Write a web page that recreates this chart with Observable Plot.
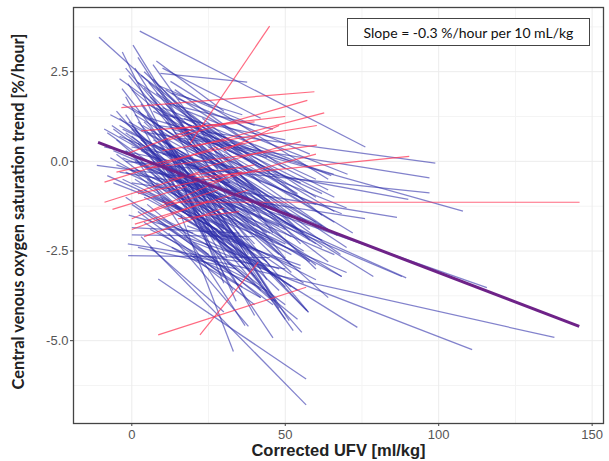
<!DOCTYPE html>
<html>
<head>
<meta charset="utf-8">
<script src="https://cdn.jsdelivr.net/npm/d3@7"></script>
<script src="https://cdn.jsdelivr.net/npm/@observablehq/plot@0.6"></script>
<style>
  html, body { margin: 0; padding: 0; background: #fff; }
  #wrap { position: relative; width: 609px; height: 461px; }
  #note {
    position: absolute; left: 347px; top: 18px; width: 243px; height: 28px;
    border: 1.3px solid #444; box-sizing: border-box; background: #fff;
    font-family: Lato, "Open Sans", sans-serif; font-size: 14px; color: #111;
    display: flex; align-items: center; justify-content: center; white-space: nowrap;
  }
</style>
</head>
<body>
<div id="wrap"></div>
<script>
// Tick positions
const xTicks = [0, 50, 100, 150];
const xMinor = [25, 75, 125];
const yTicks = [2.5, 0, -2.5, -5];
const yMinor = [3.75, 1.25, -1.25, -3.75, -6.25];

// Overall fitted trend (start and end points of the thick line)
const fitLine = [[-11, 0.53], [145.8, -4.60]];

// Individual patient trend segments [x1, y1, x2, y2] (blue)
const blueSegments = [
  [-10.7, 3.46, 42, -0.6], [2.6, 3.63, 76.1, 0.40], [9.3, 2.45, 37.6, 2.21], [-3.1, 3.05, 27, -2.2],
  [0.4, 3.24, 34, -1.4], [6.9, 2.70, 46, -2.0], [12.6, 2.23, 64, -0.5], [-1.3, 2.17, 38, -2.6],
  [-3.2, 2.03, 24, -1.0], [1.0, 2.60, 44, -3.3], [4.0, 2.05, 55, -2.3], [8.0, 1.90, 60, -1.0],
  [15.0, 1.75, 58, 0.2], [-2.0, 1.80, 33, -3.6], [-5.0, 1.40, 30, -2.0], [3.0, 1.60, 50, -4.4],
  [10.0, 1.50, 65, -0.4], [-4.0, 1.20, 40, -1.8], [5.0, 1.30, 47, -3.9], [0.0, 1.00, 57.6, -4.21],
  [18.0, 1.40, 70.3, -0.36], [-6.5, 1.00, 22, -0.7], [2.0, 2.90, 20, 0.5], [5.5, 2.20, 28, -0.2],
  [11.0, 2.00, 42, 0.3], [-1.0, 2.40, 16, 0.6],
  [-8.0, 0.80, 25, -1.2], [-9.0, 0.40, 30, -0.3], [-11.4, -0.11, 32, -0.6], [-7.0, 0.10, 28, -1.6],
  [-5.0, 0.60, 36, -2.4], [-3.0, 0.90, 45, -1.1], [-2.0, 0.30, 42, -3.0], [-1.0, 1.10, 52, -1.5],
  [0.0, 0.70, 48, -2.6], [0.5, 0.20, 36.9, -4.58], [1.0, 1.30, 35, -0.5], [2.0, 0.50, 55.4, -4.77],
  [3.0, 0.00, 40, -3.2], [3.5, 1.00, 60, -1.7], [4.0, 0.40, 46, -4.92], [5.0, 0.80, 97, -0.46],
  [5.0, -0.20, 88, -3.21], [6.0, 1.20, 65.8, -0.36], [6.0, 0.30, 52, -2.1], [7.0, 0.60, 78.7, -3.21],
  [7.5, -0.40, 45, -2.0], [8.0, 1.00, 98.9, -0.05], [8.0, 0.10, 50, -3.5], [9.0, 0.80, 70, -1.3],
  [10.0, 0.20, 90.1, -1.06], [10.0, -0.20, 89.4, -3.25], [11.0, 1.10, 55, -0.6], [12.0, 0.50, 62, -2.4],
  [12.0, -0.30, 57, -4.16], [13.0, 0.90, 107.9, -1.39], [14.0, 0.30, 48, -1.4], [15.0, -0.50, 115.7, -3.52],
  [15.0, 0.70, 67, -2.07], [16.0, 1.10, 52, 0.0], [17.0, 0.40, 60, -1.2], [18.0, -0.10, 51.3, -4.44],
  [19.0, 0.80, 62, -0.9], [20.0, 0.20, 68.4, -1.46], [22.0, 0.50, 58, -1.9], [-4.0, -0.30, 86.4, -1.56],
  [-2.0, 0.00, 97, -0.88], [0.0, -0.60, 76, -1.60], [1.0, -0.20, 68.4, -3.21], [2.0, -0.80, 73.5, -4.63],
  [-6.0, -0.60, 30, -1.8], [-3.0, -0.50, 38, -2.2],
  [-1.2, -2.63, 45, -2.68], [-1.3, -2.30, 50, -3.0], [0.0, -2.05, 40, -2.1], [0.0, -1.85, 35, -2.0],
  [8.6, -3.28, 56.8, -6.07], [3.0, -2.10, 56.8, -6.79], [16.0, -1.50, 33.1, -5.30], [20.0, -2.25, 110.9, -5.25],
  [20.0, -2.65, 137.7, -4.91], [5.0, -1.20, 42, -3.8], [8.0, -1.60, 46, -4.0], [10.0, -1.00, 54, -3.6],
  [12.0, -2.00, 38, -4.6], [14.0, -1.30, 60, -3.3], [18.0, -1.80, 55, -2.9], [22.0, -1.00, 66, -2.6],
  [25.0, -1.50, 70, -3.1], [24.0, -2.30, 50, -4.0], [28.0, -2.00, 55, -3.0], [2.0, -1.40, 30, -3.2],
  [-2.0, -1.00, 25, -2.6], [6.0, -2.40, 30, -4.2], [4.0, -1.70, 36, -3.5], [30.0, -1.20, 64, -3.8],
  [-7, 1.3, 20, 0.1], [-6, 0.3, 26, -0.9], [-5, -0.1, 34, -1.3], [-4, 0.7, 28, -0.4],
  [-3, 1.6, 30, -0.1], [-2, -0.3, 46, -2.2], [-1, 0.6, 38, -1.7], [0, 1.5, 42, -0.9],
  [1, -0.5, 44, -2.8], [2, 1.1, 40, -2.3], [3, 0.6, 34, -0.8], [4, -0.8, 40, -2.5],
  [5, 1.6, 38, 0.2], [6, -0.1, 58, -2.8], [7, 1.4, 45, -0.3], [8, -0.6, 50, -2.3],
  [9, 0.4, 35, -1.0], [10, 1.3, 50, 0.6], [11, -0.4, 48, -1.8], [12, 1.6, 46, 0.9],
  [13, 0.0, 38, -1.5], [14, 0.8, 44, 0.1], [15, -0.9, 52, -2.6], [16, 0.2, 40, -0.8],
  [17, 1.2, 60, -0.5], [18, 0.6, 50, -2.7], [19, -0.4, 62, -2.2], [20, 1.0, 48, -0.4],
  [21, -0.8, 45, -2.9], [23, 0.0, 60, -3.0], [24, 0.9, 56, -1.1], [26, -0.3, 64, -2.8],
  [0, 0.4, 24, 0.0], [-9, 0.9, 14, -0.2], [-8, -0.4, 18, -1.4], [2, 2.2, 26, 0.8],
  [4, 2.5, 30, 0.4], [-4, 2.3, 14, 1.2], [6, 1.8, 32, -0.6], [9, 2.1, 40, 1.0],
  [13, 1.9, 36, 1.3], [-2, 1.3, 18, -1.2], [1, 0.9, 22, -1.4], [3, -1.3, 26, -2.4],
  [7, -1.0, 28, -1.9], [10, -1.6, 34, -2.6], [-1, -1.5, 20, -2.0], [12, 0.3, 30, -3.4],
  [14, -0.2, 34, -3.9], [16, -0.6, 40, -4.3], [9, 1.0, 31, -2.7], [20, -1.3, 42, -3.4],
  [22, -0.5, 48, -4.1], [11, 0.6, 57.5, -4.2], [6, 0.9, 52.6, -4.72], [26, -1.0, 68.4, -3.21],
  [-6, 0.9, 24, -1.0], [-5, 0.2, 32, -2.2], [-4, 1.0, 36, -0.9], [-3, 0.1, 40, -1.4],
  [-2, 0.8, 44, -2.0], [-1, -0.2, 36, -2.7], [0, 0.9, 30, -1.9], [1, 0.0, 50, -1.9],
  [2, 1.4, 48, -1.3], [3, 0.3, 56, -2.5], [4, 1.1, 52, -2.9], [5, -0.5, 38, -3.0],
  [6, 0.5, 44, -1.2], [7, 0.0, 62, -1.8], [8, 1.5, 54, -1.9], [9, -0.3, 42, -3.6],
  [10, 0.6, 60, -2.9], [11, 1.6, 58, -2.2], [12, -0.8, 56, -3.4], [13, 1.3, 66, -1.4],
  [14, 0.0, 52, -3.1], [15, 1.0, 64, -1.9], [16, -1.0, 48, -3.6], [17, 0.6, 70, -2.4],
  [18, -0.6, 46, -3.2], [19, 1.0, 66, -1.0], [20, -0.1, 56, -2.0], [21, 0.7, 54, -0.9],
  [23, 1.2, 62, -1.5], [25, 0.4, 66, -1.7], [27, 0.8, 64, -0.8], [28, -0.7, 60, -2.3],
  [30, 0.2, 72, -2.0], [32, -0.4, 68, -2.6],
  [0, -1.2, 28, -2.8], [2, -2.4, 34, -3.0], [4, -1.0, 30, -2.2], [6, -1.9, 38, -3.3],
  [8, -2.2, 44, -3.6], [11, -1.2, 40, -2.9], [13, -2.4, 42, -3.8], [17, -2.1, 48, -3.0],
  [19, -2.6, 40, -4.0], [23, -1.8, 52, -3.5], [27, -2.5, 46, -3.9], [31, -2.8, 54, -4.4],
  [3, 2.4, 36, 0.2], [7, 2.3, 40, -0.8], [10, 2.6, 42, 1.2], [14, 2.0, 50, -0.2],
  [0, 2.0, 28, 0.0], [-2, 2.6, 22, 0.2], [8, 2.8, 30, 1.4]
];

// Individual patient trend segments [x1, y1, x2, y2] (red)
const redSegments = [
  [19, 0.5, 44.9, 3.77], [10, -1.14, 145.9, -1.14], [8.6, -4.84, 56.8, -3.51], [22.2, -4.84, 41.2, -2.81],
  [-3.4, 1.50, 59.5, 1.94], [12, 0.6, 57.2, 1.70], [20, 0.4, 62.7, 1.35], [10, 0.3, 60.3, 1.0],
  [5, -0.2, 60.3, 0.45], [20, -0.46, 90.4, 0.14], [-8.9, -0.58, 28, 0.4], [-8.9, -1.14, 22, -0.3],
  [-6.3, -1.34, 18, -0.7], [0, -1.6, 30, -0.5], [0, -1.9, 25, -1.1], [1, -1.75, 38, -0.8],
  [4, -2.1, 30, -1.3], [-5, -0.3, 42, 0.6], [3, 0.85, 40, 1.1], [2, -0.9, 36, -0.3],
  [6, -1.4, 28, -0.8], [12, -0.5, 40, -0.1], [-2, 0.2, 20, 0.9], [25, -0.6, 60, 0.2],
  [15, -1.6, 35, -1.4], [30, 0.3, 48, 1.0], [22, -0.2, 55, 0.55], [14, 0.9, 50, 1.25]
];

const toObj = s => ({x1: s[0], y1: s[1], x2: s[2], y2: s[3]});
const blue = blueSegments.map(toObj);
const red = redSegments.map(toObj);
const fit = [{x1: fitLine[0][0], y1: fitLine[0][1], x2: fitLine[1][0], y2: fitLine[1][1]}];

const chart = Plot.plot({
  width: 609,
  height: 461,
  marginLeft: 73,
  marginRight: 6,
  marginTop: 7,
  marginBottom: 38,
  style: {background: "#fff", overflow: "visible"},
  x: {domain: [-19, 153.7]},
  y: {domain: [-7.31, 4.29]},
  marks: [
    Plot.gridX(xMinor, {stroke: "#f4f4f4", strokeOpacity: 1}),
    Plot.gridY(yMinor, {stroke: "#f4f4f4", strokeOpacity: 1}),
    Plot.gridX(xTicks, {stroke: "#ececec", strokeOpacity: 1}),
    Plot.gridY(yTicks, {stroke: "#ececec", strokeOpacity: 1}),
    Plot.link(blue, {x1: "x1", y1: "y1", x2: "x2", y2: "y2", stroke: "#2e2eaa", strokeOpacity: 0.6, strokeWidth: 1.25}),
    Plot.link(red, {x1: "x1", y1: "y1", x2: "x2", y2: "y2", stroke: "#ff3050", strokeOpacity: 0.72, strokeWidth: 1.2}),
    Plot.link(fit, {x1: "x1", y1: "y1", x2: "x2", y2: "y2", stroke: "#6e2288", strokeWidth: 3, strokeLinecap: "butt"}),
    Plot.frame({stroke: "#444", strokeWidth: 1.3}),
    Plot.axisX(xTicks, {tickSize: 3, tickPadding: 3, stroke: "#444", fill: "#555", fontSize: 13,
      fontFamily: "'Liberation Sans', Arial, sans-serif", label: null}),
    Plot.axisY(yTicks, {tickSize: 3, tickPadding: 2, stroke: "#444", fill: "#555", fontSize: 13,
      fontFamily: "'Liberation Sans', Arial, sans-serif", label: null, tickFormat: d => d.toFixed(1)}),
    Plot.text(["Central venous oxygen saturation trend [%/hour]"], {
      frameAnchor: "left", dx: -55, dy: -4, rotate: -90, textAnchor: "middle",
      fontSize: 16.4, fontWeight: "bold", fontFamily: "Lato, 'Open Sans', sans-serif", fill: "#222"
    }),
    Plot.text(["Corrected UFV [ml/kg]"], {
      frameAnchor: "bottom", dy: 27, lineAnchor: "middle", textAnchor: "middle",
      fontSize: 16.5, fontWeight: "bold", fontFamily: "'Liberation Sans', Arial, sans-serif", fill: "#222"
    })
  ]
});

const wrap = document.getElementById("wrap");
wrap.appendChild(chart);
const note = document.createElement("div");
note.id = "note";
note.textContent = "Slope = -0.3 %/hour per 10 mL/kg";
wrap.appendChild(note);
</script>
</body>
</html>
